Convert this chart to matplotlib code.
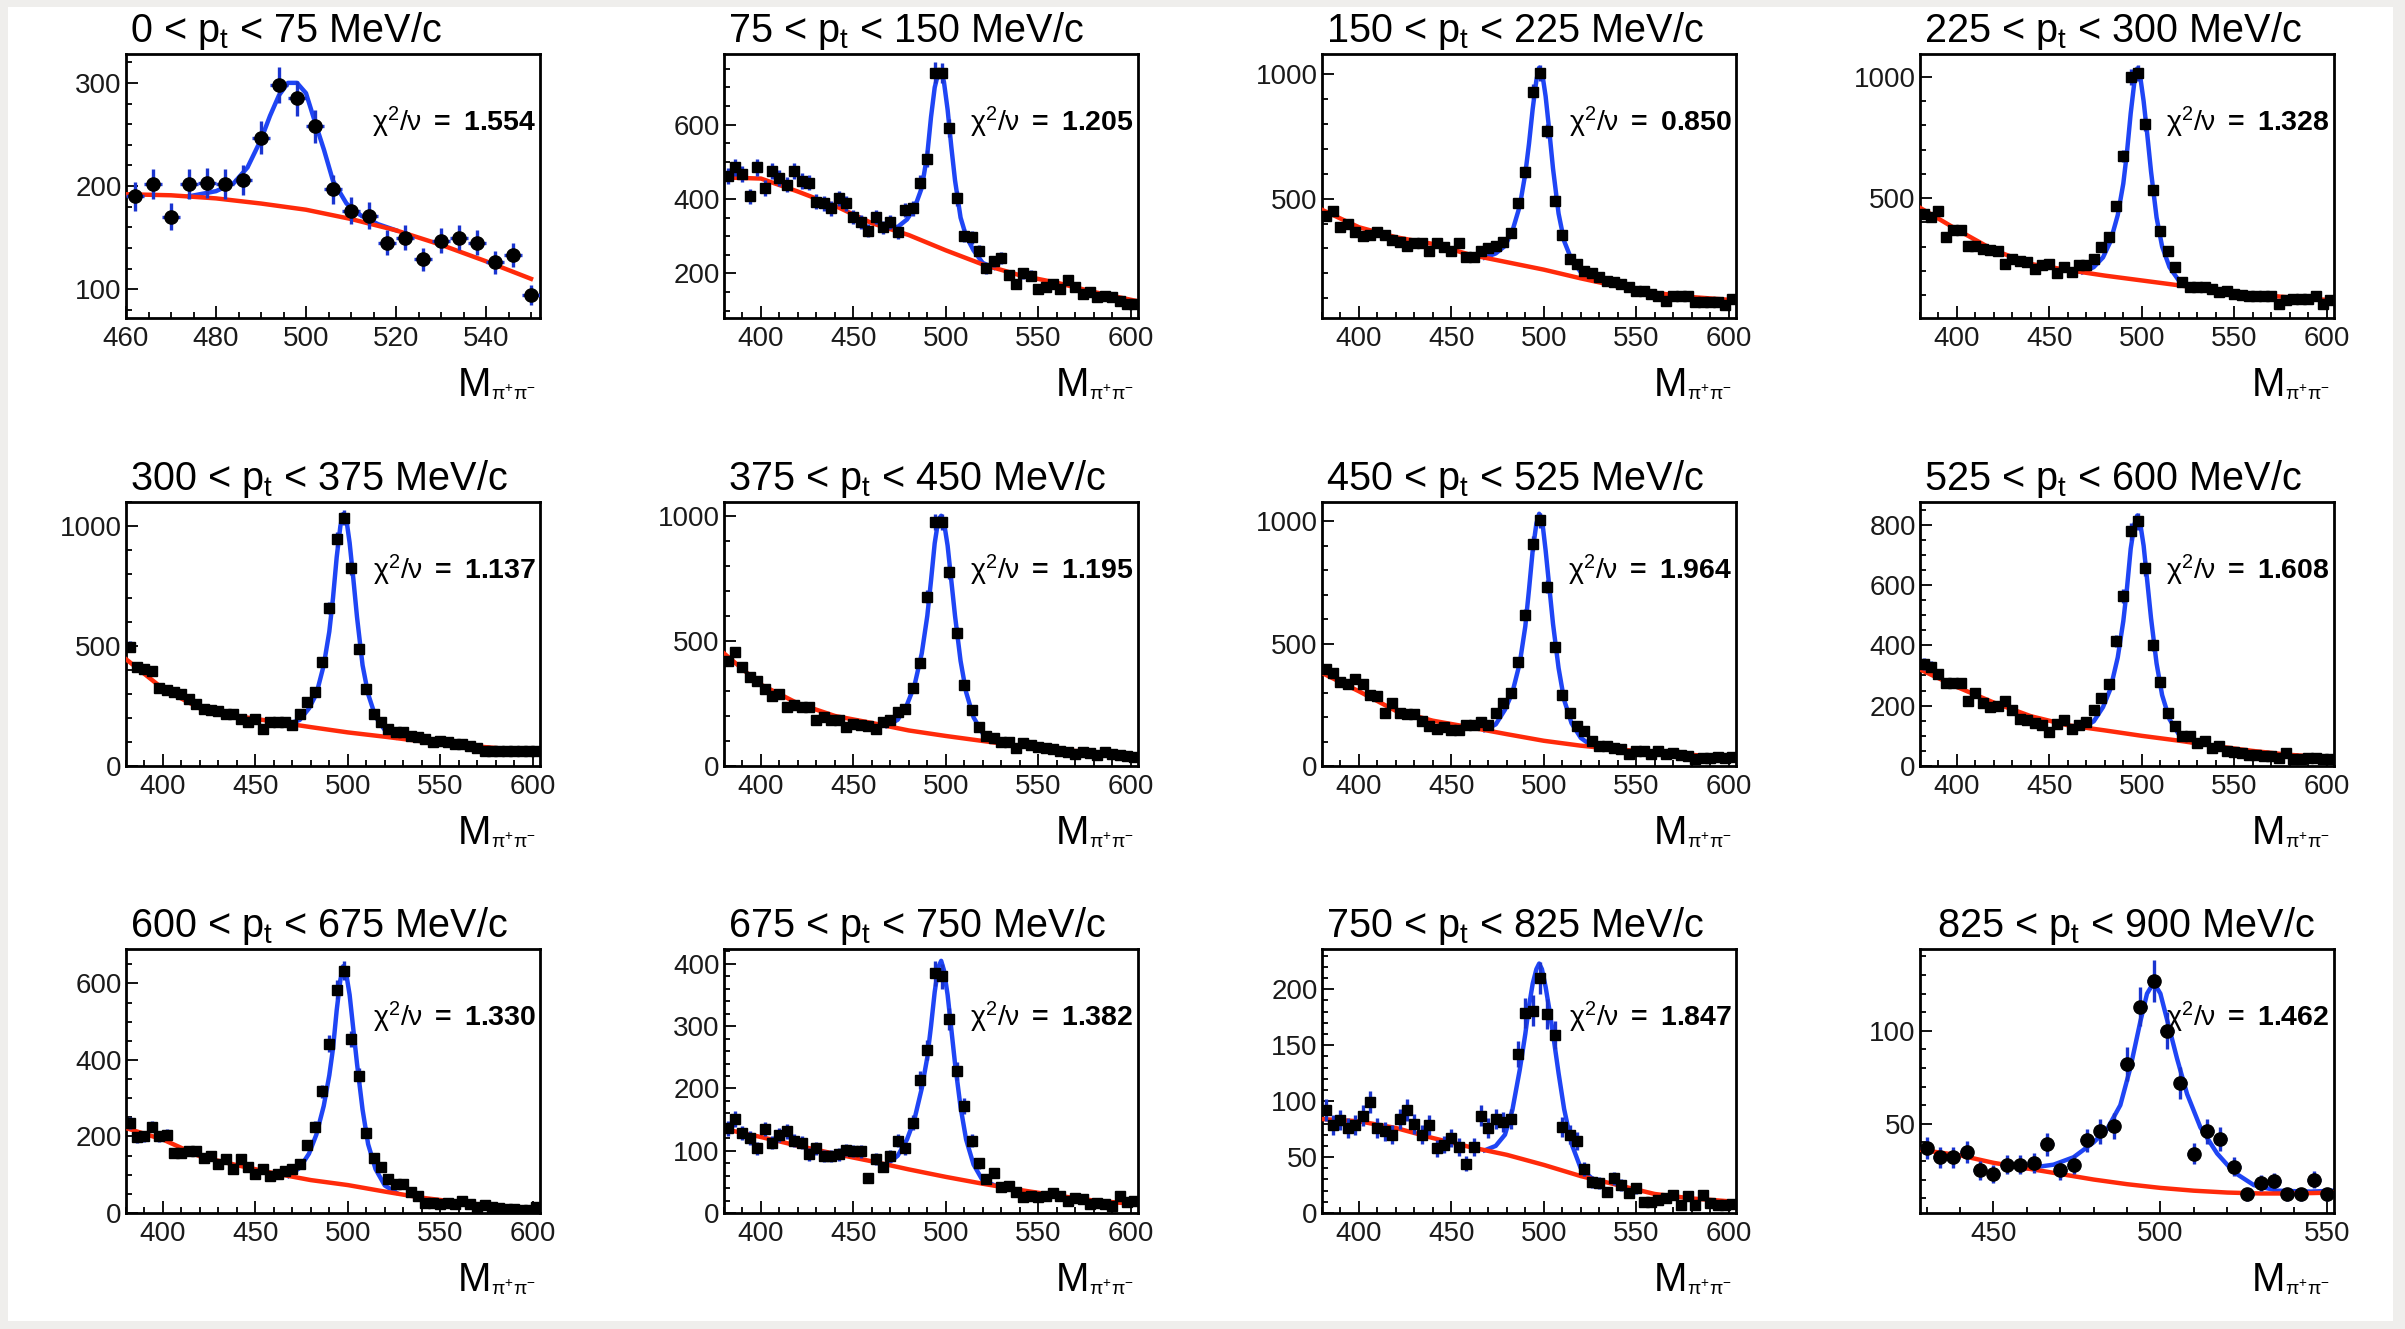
import numpy as np
import matplotlib.pyplot as plt
from matplotlib.patches import Rectangle
from matplotlib.ticker import MultipleLocator

plt.rcParams['font.family'] = ['Liberation Sans', 'DejaVu Sans']
plt.rcParams['mathtext.fontset'] = 'custom'
plt.rcParams['mathtext.rm'] = 'Liberation Sans'
plt.rcParams['mathtext.it'] = 'Liberation Sans:italic'
plt.rcParams['mathtext.bf'] = 'Liberation Sans:bold'
plt.rcParams['mathtext.default'] = 'regular'

# ==========================
# Data
# ==========================
pt_bins = ["0 < $p_{t}$ < 75", "75 < $p_{t}$ < 150", "150 < $p_{t}$ < 225", "225 < $p_{t}$ < 300",
           "300 < $p_{t}$ < 375", "375 < $p_{t}$ < 450", "450 < $p_{t}$ < 525", "525 < $p_{t}$ < 600",
           "600 < $p_{t}$ < 675", "675 < $p_{t}$ < 750", "750 < $p_{t}$ < 825", "825 < $p_{t}$ < 900"]
chi2_ndf = ["1.554", "1.205", "0.850", "1.328", "1.137", "1.195",
            "1.964", "1.608", "1.330", "1.382", "1.847", "1.462"]

# bin centres (4 MeV bins)
x_p1 = np.arange(462, 552, 4)
x_wide = np.arange(382, 604, 4)
x_p12 = np.arange(430, 552, 4)

# counts per bin
y_p1 = [190, 202, 170, 202, 203, 202, 206, 247, 298, 285, 258, 197, 176, 171, 145, 150,
        129, 147, 150, 145, 126, 133, 94]
y_p2 = [462, 485, 467, 407, 485, 430, 476, 457, 439, 476, 448, 444, 393, 388, 375, 402,
        388, 352, 338, 315, 352, 324, 338, 310, 370, 375, 444, 508, 740, 738, 591, 402,
        301, 297, 260, 214, 232, 241, 195, 172, 200, 194, 159, 163, 172, 159, 181, 163,
        145, 150, 136, 140, 136, 126, 117, 117]
y_p3 = [431, 451, 387, 397, 364, 351, 355, 367, 355, 333, 324, 311, 321, 321, 291, 321,
        304, 291, 321, 267, 264, 291, 301, 311, 324, 360, 481, 608, 928, 1004, 771, 491,
        355, 257, 237, 211, 200, 184, 171, 164, 157, 144, 131, 128, 117, 111, 91, 111,
        108, 108, 84, 84, 84, 84, 75, 97]
y_p4 = [434, 423, 448, 338, 368, 368, 304, 304, 290, 284, 281, 229, 249, 242, 238, 208,
        222, 229, 190, 215, 195, 222, 222, 249, 297, 338, 468, 674, 1000, 1016, 807, 533,
        363, 281, 215, 153, 133, 133, 133, 126, 112, 116, 105, 99, 95, 95, 95, 95,
        64, 81, 85, 85, 85, 95, 64, 78]
y_p5 = [497, 413, 405, 395, 324, 315, 308, 301, 280, 259, 238, 234, 231, 217, 217, 196,
        182, 196, 154, 185, 185, 185, 171, 217, 266, 308, 434, 657, 944, 1035, 825, 487,
        322, 217, 185, 154, 140, 140, 126, 119, 112, 98, 105, 98, 91, 91, 84, 73,
        63, 63, 62, 62, 61, 62, 61, 62]
y_p6 = [420, 456, 396, 354, 340, 307, 281, 288, 237, 245, 237, 235, 185, 195, 185, 185,
        156, 169, 162, 158, 149, 175, 185, 215, 228, 311, 413, 677, 976, 976, 776, 532,
        325, 224, 156, 119, 110, 96, 96, 70, 90, 83, 77, 70, 66, 61, 57, 47,
        57, 50, 44, 57, 47, 44, 40, 37]
y_p7 = [395, 381, 345, 335, 354, 335, 291, 286, 216, 257, 216, 214, 214, 182, 162, 151,
        159, 149, 149, 169, 169, 178, 169, 216, 259, 297, 426, 615, 908, 1003, 732, 486,
        291, 216, 162, 142, 101, 81, 81, 74, 70, 51, 61, 61, 51, 61, 47, 54,
        43, 41, 27, 34, 34, 38, 34, 38]
y_p8 = [338, 329, 305, 274, 276, 276, 217, 241, 210, 197, 199, 217, 186, 156, 153, 142,
        137, 112, 140, 151, 123, 137, 145, 184, 225, 272, 414, 564, 778, 811, 655, 400,
        279, 175, 134, 101, 101, 77, 82, 60, 66, 49, 46, 42, 38, 35, 33, 33,
        27, 42, 22, 24, 27, 27, 24, 22]
y_p9 = [236, 198, 201, 226, 201, 204, 156, 157, 163, 163, 143, 149, 129, 140, 116, 140,
        121, 101, 114, 96, 103, 110, 114, 128, 178, 226, 318, 443, 584, 633, 455, 359,
        210, 145, 121, 90, 77, 77, 55, 44, 26, 26, 24, 26, 23, 31, 24, 16,
        20, 16, 14, 11, 11, 9, 7, 16]
y_p10 = [136, 151, 129, 120, 104, 135, 113, 126, 131, 116, 113, 94, 104, 92, 92, 94,
         101, 100, 99, 57, 87, 74, 92, 116, 104, 145, 214, 262, 385, 380, 312, 228,
         172, 116, 80, 55, 64, 41, 44, 34, 26, 27, 26, 27, 32, 27, 20, 24,
         23, 15, 16, 15, 12, 28, 18, 20]
y_p11 = [92, 79, 83, 76, 79, 87, 99, 76, 73, 70, 84, 92, 80, 70, 79, 58,
         61, 67, 59, 44, 59, 87, 76, 84, 81, 84, 142, 179, 181, 210, 178, 159,
         77, 70, 64, 39, 28, 27, 19, 31, 25, 18, 22, 10, 10, 12, 13, 16,
         7, 15, 7, 16, 9, 7, 7, 8]
y_p12 = [37, 32, 32, 35, 25, 23, 28, 28, 29, 39, 25, 28, 41, 46, 49, 82,
         113, 127, 100, 72, 34, 46, 42, 27, 12, 18, 19, 12, 12, 20, 12]

# background fit (red), read at nodes
bg_x_p1 = [460, 470, 480, 490, 500, 510, 520, 530, 540, 550]
bg_p1 = [192, 191, 188, 183, 177, 168, 157, 143, 127, 110]
bg_x_wide = [380, 400, 420, 440, 460, 480, 500, 520, 540, 560, 580, 604]
bg_p2 = [458, 455, 420, 382, 335, 303, 262, 224, 195, 175, 150, 125]
bg_p3 = [455, 385, 345, 318, 275, 245, 215, 180, 148, 122, 105, 92]
bg_p4 = [460, 370, 285, 228, 203, 180, 160, 140, 120, 103, 90, 78]
bg_p5 = [445, 322, 240, 208, 185, 162, 140, 122, 103, 88, 75, 62]
bg_p6 = [450, 325, 250, 200, 172, 142, 120, 100, 80, 65, 55, 45]
bg_p7 = [380, 305, 225, 185, 158, 130, 103, 83, 68, 55, 45, 37]
bg_p8 = [320, 262, 210, 165, 135, 118, 100, 84, 66, 50, 37, 27]
bg_p9 = [222, 192, 148, 125, 104, 86, 73, 56, 40, 28, 18, 12]
bg_p10 = [135, 122, 108, 95, 83, 70, 58, 47, 37, 28, 20, 14]
bg_p11 = [84, 82, 76, 67, 59, 52, 43, 33, 25, 17, 13, 10]
bg_x_p12 = [428, 440, 450, 460, 470, 480, 490, 500, 510, 520, 530, 540, 552]
bg_p12 = [36, 33, 29, 26, 23, 20, 17.5, 15.5, 14, 13, 12.5, 12.5, 13]

# signal + background fit (blue), read at nodes around the K0s peak
pk_x_p1 = [474, 480, 484, 487, 490, 492, 494, 496, 498, 500, 502, 504, 506, 509, 512, 516, 520]
tot_p1 = [190, 195, 203, 218, 245, 268, 288, 300, 300, 290, 262, 235, 205, 183, 172, 163, 157]
pk_x = [468, 474, 479, 483, 487, 490, 492, 494, 496, 497.5, 499, 501, 503, 505, 508, 511, 515, 520, 526]
tot_p2 = [324, 325, 345, 375, 430, 520, 620, 700, 740, 745, 715, 640, 540, 450, 350, 300, 262, 228, 215]
tot_p3 = [263, 280, 310, 370, 470, 600, 720, 860, 975, 1025, 1010, 910, 770, 620, 440, 330, 255, 205, 175]
tot_p4 = [194, 215, 255, 320, 430, 560, 690, 850, 980, 1035, 1010, 900, 760, 610, 420, 300, 215, 160, 136]
tot_p5 = [176, 192, 240, 300, 420, 560, 700, 870, 1000, 1050, 1040, 930, 780, 620, 420, 300, 205, 150, 120]
tot_p6 = [160, 185, 245, 320, 450, 600, 740, 890, 985, 1000, 975, 880, 740, 600, 420, 295, 195, 130, 98]
tot_p7 = [147, 170, 230, 300, 420, 570, 720, 880, 990, 1030, 1010, 880, 730, 580, 400, 270, 175, 115, 82]
tot_p8 = [128, 148, 195, 255, 360, 480, 590, 720, 800, 830, 810, 730, 610, 490, 340, 235, 155, 105, 82]
tot_p9 = [97, 118, 155, 205, 280, 360, 430, 530, 610, 645, 630, 570, 480, 390, 270, 180, 115, 72, 54]
tot_p10 = [78, 92, 118, 150, 200, 250, 300, 355, 395, 405, 390, 350, 295, 240, 170, 118, 78, 52, 45]
tot_p11 = [56, 60, 70, 92, 128, 160, 185, 205, 218, 223, 218, 202, 182, 160, 125, 93, 62, 40, 31]
pk_x_p12 = [460, 468, 474, 480, 484, 488, 491, 494, 496, 498, 500, 502, 505, 508, 512, 517, 522, 528, 535, 545, 552]
tot_p12 = [26, 28, 32, 40, 47, 60, 80, 105, 120, 126, 120, 106, 85, 66, 48, 34, 24, 17, 14, 13.5, 14]

# ==========================
# Panels
# ==========================
panels = [
    (x_p1, y_p1, bg_x_p1, bg_p1, pk_x_p1, tot_p1),
    (x_wide, y_p2, bg_x_wide, bg_p2, pk_x, tot_p2),
    (x_wide, y_p3, bg_x_wide, bg_p3, pk_x, tot_p3),
    (x_wide, y_p4, bg_x_wide, bg_p4, pk_x, tot_p4),
    (x_wide, y_p5, bg_x_wide, bg_p5, pk_x, tot_p5),
    (x_wide, y_p6, bg_x_wide, bg_p6, pk_x, tot_p6),
    (x_wide, y_p7, bg_x_wide, bg_p7, pk_x, tot_p7),
    (x_wide, y_p8, bg_x_wide, bg_p8, pk_x, tot_p8),
    (x_wide, y_p9, bg_x_wide, bg_p9, pk_x, tot_p9),
    (x_wide, y_p10, bg_x_wide, bg_p10, pk_x, tot_p10),
    (x_wide, y_p11, bg_x_wide, bg_p11, pk_x, tot_p11),
    (x_p12, y_p12, bg_x_p12, bg_p12, pk_x_p12, tot_p12),
]

# axis settings: xlim, ylim, x major/minor, y major/minor
axis_cfg = [
    ((460, 552), (72, 328), 20, 5, 100, 20),
    ((380, 604), (80, 790), 50, 10, 200, 50),
    ((380, 604), (21, 1080), 50, 10, 500, 100),
    ((380, 604), (5, 1095), 50, 10, 500, 100),
    ((380, 604), (0, 1100), 50, 10, 500, 100),
    ((380, 604), (0, 1055), 50, 10, 500, 100),
    ((380, 604), (0, 1078), 50, 10, 500, 100),
    ((380, 604), (0, 875), 50, 10, 200, 50),
    ((380, 604), (0, 690), 50, 10, 200, 50),
    ((380, 604), (0, 424), 50, 10, 100, 20),
    ((380, 604), (0, 236), 50, 10, 50, 10),
    ((428, 552), (2, 144), 50, 10, 50, 10),
]

RED = '#ff2a0a'
BLUE = '#1f45f5'
EBLUE = '#1a35d0'

W, H = 2405, 1329
col_left = [126, 724, 1322, 1920]
row_top = [54, 502, 949]
aw, ah = 414, 264

fig = plt.figure(figsize=(W / 100, H / 100), dpi=100)
fig.patch.set_facecolor('#efeeec')
fig.add_artist(Rectangle((8 / W, 8 / H), 2385 / W, 1314 / H, transform=fig.transFigure,
                         facecolor='white', edgecolor='none', zorder=-10))

for i, (x, y, bgx, bg, pkx, tot) in enumerate(panels):
    r, c = i // 4, i % 4
    ax = fig.add_axes([col_left[c] / W, (H - row_top[r] - ah) / H, aw / W, ah / H])
    xlim, ylim, xmaj, xmin, ymaj, ymin = axis_cfg[i]
    y = np.array(y, dtype=float)

    ax.plot(pkx, tot, color=BLUE, lw=3.2, zorder=2)
    ax.plot(bgx, bg, color=RED, lw=3.2, zorder=3)
    ax.errorbar(x, y, xerr=2, yerr=np.sqrt(y), fmt='none', ecolor=EBLUE,
                elinewidth=2.4, capsize=0, zorder=4)
    if i in (0, 11):
        ax.plot(x, y, ls='none', marker='o', ms=9.5, color='black', zorder=5)
    else:
        ax.plot(x, y, ls='none', marker='s', ms=7, color='black', zorder=5)

    ax.set_xlim(*xlim)
    ax.set_ylim(*ylim)
    ax.xaxis.set_major_locator(MultipleLocator(xmaj))
    ax.xaxis.set_minor_locator(MultipleLocator(xmin))
    ax.yaxis.set_major_locator(MultipleLocator(ymaj))
    ax.yaxis.set_minor_locator(MultipleLocator(ymin))
    ax.tick_params(which='both', direction='in', top=False, right=False, width=1.3,
                   labelsize=20, labelcolor='#1a1a1a')
    ax.tick_params(which='major', length=8.5)
    ax.tick_params(which='minor', length=4.5)
    ax.tick_params(axis='x', pad=6)
    ax.tick_params(axis='y', pad=3)
    for s in ax.spines.values():
        s.set_linewidth(2.0)

    ax.text(0.01 if i != 11 else 0.04, 1.045, pt_bins[i] + " MeV/c", transform=ax.transAxes,
            ha='left', va='baseline', fontsize=28.5)
    ax.text(0.99, 0.742, r"$\chi^{2}/\nu$ " + r"$\mathbf{=\ " + chi2_ndf[i] + "}$",
            transform=ax.transAxes, ha='right', va='center', fontsize=20.5)
    ax.text(0.881, -0.295, "M", transform=ax.transAxes, ha='right', va='baseline', fontsize=29)
    ax.text(0.881, -0.31, r"$\pi^{+}\pi^{-}$", transform=ax.transAxes, ha='left',
            va='baseline', fontsize=14)

fig.savefig("out.png", dpi=100, facecolor=fig.get_facecolor())
